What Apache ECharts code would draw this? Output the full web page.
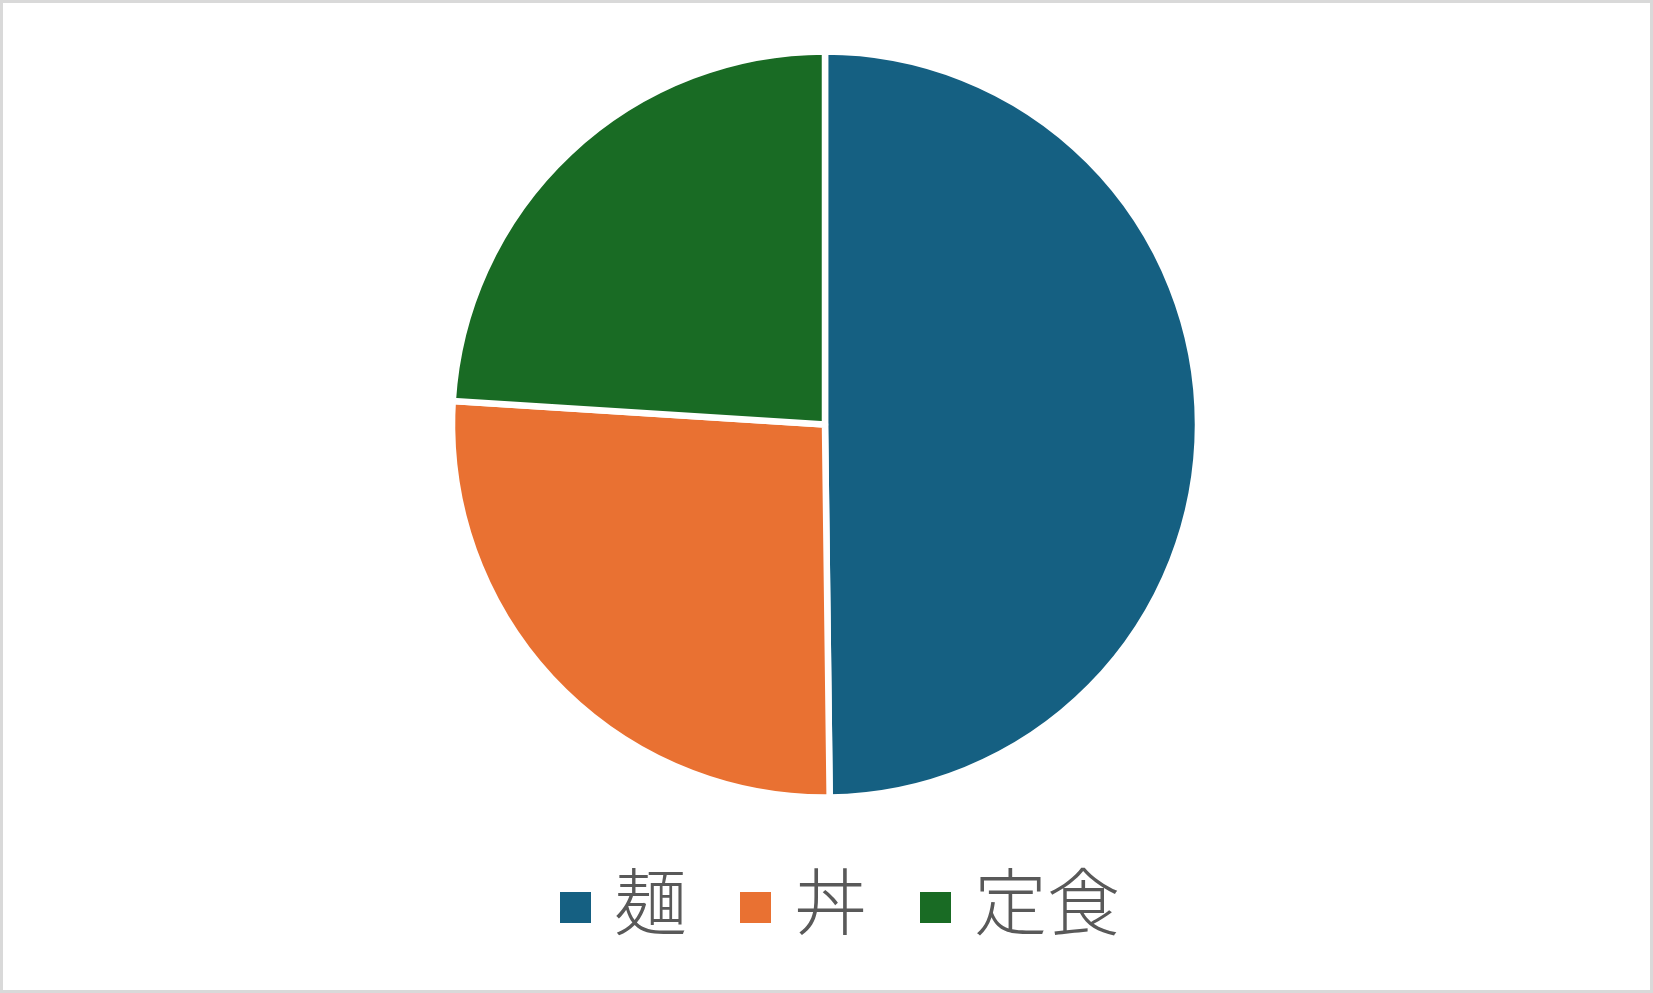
<!DOCTYPE html>
<html>
<head>
<meta charset="utf-8">
<script src="https://cdn.jsdelivr.net/npm/echarts@6/dist/echarts.min.js"></script>
<style>
html,body{margin:0;padding:0;background:#fff;}
#chart{width:1653px;height:993px;}
</style>
</head>
<body>
<div id="chart"></div>
<script>
const categories = ['麺', '丼', '定食'];
const values = [49.8, 26.2, 24.0];
const colors = ['#156082', '#E97132', '#196B24'];

const chart = echarts.init(document.getElementById('chart'));
chart.setOption({
  animation: false,
  backgroundColor: '#ffffff',
  color: colors,
  graphic: [{
    type: 'rect',
    silent: true,
    shape: { x: 1.5, y: 1.5, width: 1650, height: 990 },
    style: { fill: 'none', stroke: '#d9d9d9', lineWidth: 3 }
  }],
  legend: {
    data: categories,
    left: 553,
    top: 860,
    itemWidth: 33,
    itemHeight: 45,
    itemGap: 51,
    icon: 'path://M0,0L33,0L33,0Z M0,12L33,12L33,45L0,45Z',
    textStyle: {
      fontFamily: 'Noto Sans CJK JP',
      fontWeight: 300,
      fontSize: 73,
      color: '#595959',
      padding: [0, 0, 0, 17]
    }
  },
  series: [{
    type: 'pie',
    center: [825, 424.5],
    radius: 373,
    startAngle: 90,
    clockwise: true,
    label: { show: false },
    labelLine: { show: false },
    itemStyle: { borderColor: '#ffffff', borderWidth: 6.5 },
    data: categories.map((c, i) => ({ name: c, value: values[i] }))
  }]
});
</script>
</body>
</html>
